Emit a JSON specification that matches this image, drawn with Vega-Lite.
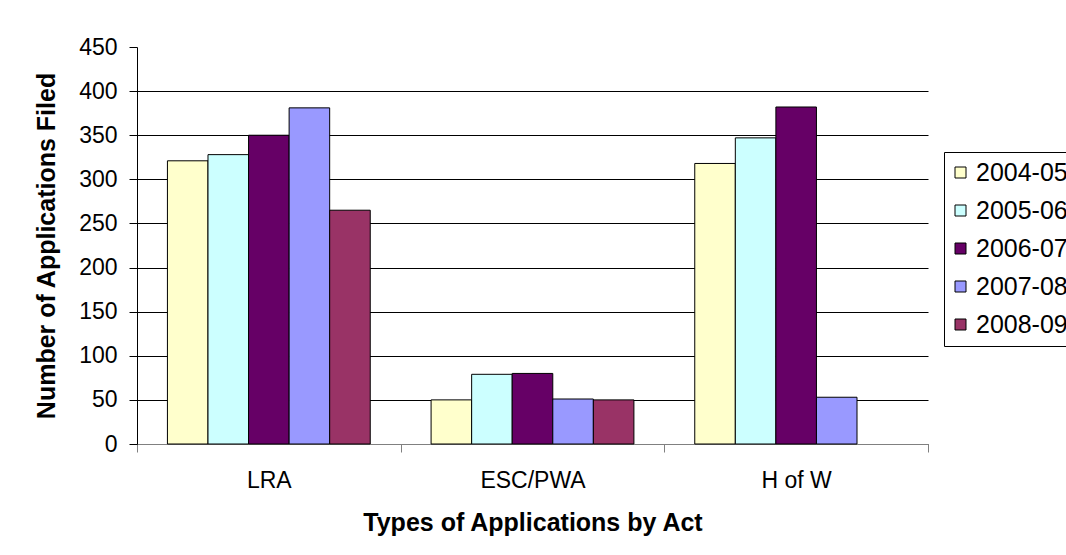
{
  "$schema": "https://vega.github.io/schema/vega-lite/v6.json",
  "autosize": "none",
  "padding": {"left": 137, "top": 47, "right": 138, "bottom": 111},
  "width": 791,
  "height": 397,
  "background": "white",
  "data": {
    "values": [
      {"act": "LRA", "year": "2004-05", "count": 321},
      {"act": "LRA", "year": "2005-06", "count": 328},
      {"act": "LRA", "year": "2006-07", "count": 350},
      {"act": "LRA", "year": "2007-08", "count": 381},
      {"act": "LRA", "year": "2008-09", "count": 265},
      {"act": "ESC/PWA", "year": "2004-05", "count": 50},
      {"act": "ESC/PWA", "year": "2005-06", "count": 79},
      {"act": "ESC/PWA", "year": "2006-07", "count": 80},
      {"act": "ESC/PWA", "year": "2007-08", "count": 51},
      {"act": "ESC/PWA", "year": "2008-09", "count": 50},
      {"act": "H of W", "year": "2004-05", "count": 318},
      {"act": "H of W", "year": "2005-06", "count": 347},
      {"act": "H of W", "year": "2006-07", "count": 382},
      {"act": "H of W", "year": "2007-08", "count": 53}
    ]
  },
  "mark": {"type": "bar", "stroke": "#000000", "strokeWidth": 1},
  "encoding": {
    "x": {
      "field": "act",
      "type": "nominal",
      "sort": ["LRA", "ESC/PWA", "H of W"],
      "scale": {"paddingInner": 0, "paddingOuter": 0},
      "axis": {
        "title": "Types of Applications by Act",
        "labelAngle": 0,
        "labelFontSize": 23,
        "labelFont": "Liberation Sans",
        "labelColor": "#000000",
        "labelPadding": 17,
        "tickSize": 8,
        "tickBand": "extent",
        "tickColor": "#808080",
        "domainColor": "#808080",
        "titleFontSize": 25,
        "titleFont": "Liberation Sans",
        "titleFontWeight": "bold",
        "titleColor": "#000000",
        "titlePadding": 18,
        "grid": false
      }
    },
    "xOffset": {
      "field": "year",
      "type": "nominal",
      "scale": {"paddingInner": 0, "paddingOuter": 0.75}
    },
    "y": {
      "field": "count",
      "type": "quantitative",
      "scale": {"domain": [0, 450], "nice": false},
      "axis": {
        "title": "Number of Applications Filed",
        "values": [0, 50, 100, 150, 200, 250, 300, 350, 400, 450],
        "labelFontSize": 23,
        "labelFont": "Liberation Sans",
        "labelColor": "#000000",
        "labelPadding": 12,
        "tickSize": 8,
        "tickColor": "#000000",
        "domainColor": "#000000",
        "grid": true,
        "gridColor": "#000000",
        "gridOpacity": {"condition": {"test": "datum.value >= 450", "value": 0}, "value": 1},
        "titleFontSize": 25,
        "titleFont": "Liberation Sans",
        "titleFontWeight": "bold",
        "titleColor": "#000000",
        "titlePadding": 19
      }
    },
    "fill": {
      "field": "year",
      "type": "nominal",
      "scale": {
        "domain": ["2004-05", "2005-06", "2006-07", "2007-08", "2008-09"],
        "range": ["#FFFFCC", "#CCFFFF", "#660066", "#9999FF", "#993366"]
      },
      "legend": {
        "title": null,
        "orient": "none",
        "legendX": 807,
        "legendY": 105,
        "padding": 8,
        "strokeColor": "#000000",
        "fillColor": "#FFFFFF",
        "symbolType": "square",
        "symbolSize": 121,
        "symbolStrokeColor": "#000000",
        "symbolStrokeWidth": 1,
        "symbolOpacity": 1,
        "symbolOffset": -4,
        "labelFontSize": 25,
        "labelFont": "Liberation Sans",
        "labelColor": "#000000",
        "labelOffset": 3,
        "rowPadding": 12,
        "labelLimit": 300
      }
    }
  },
  "config": {
    "view": {"stroke": null},
    "axis": {"domainWidth": 1, "tickWidth": 1, "gridWidth": 1}
  }
}
